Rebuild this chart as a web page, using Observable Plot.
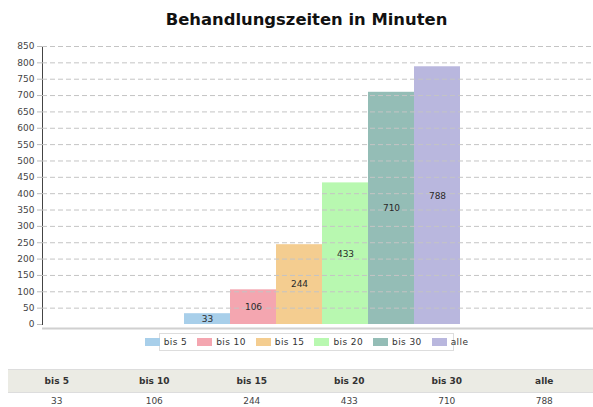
<!DOCTYPE html>
<html><head><meta charset="utf-8">
<script src="https://cdn.jsdelivr.net/npm/d3@7"></script>
<script src="https://cdn.jsdelivr.net/npm/@observablehq/plot@0.6"></script>
<style>
body{margin:0;width:593px;height:407px;overflow:hidden;background:#fff;font-family:"DejaVu Sans",Verdana,sans-serif;position:relative;}
#title{height:36px;line-height:40px;text-align:center;font-weight:bold;font-size:16.4px;color:#111;padding-left:20px;box-sizing:border-box;}
#chart svg{display:block;}
#legend{position:absolute;left:159px;top:333px;width:295px;height:18px;border:1px solid #ddd;box-sizing:border-box;display:flex;align-items:center;justify-content:center;gap:10px;font-size:9px;letter-spacing:0.4px;color:#333;white-space:nowrap;}
#legend .it{display:flex;align-items:center;gap:4px;white-space:nowrap;}
#legend .sw{width:15px;height:8px;flex:none;}
#tbl{position:absolute;left:8px;top:369px;width:585px;border-collapse:collapse;font-size:9px;color:#333;table-layout:fixed;}
#tbl th{background:#ebebe4;height:22px;padding:0;font-weight:bold;border-top:1px solid #ddd;border-bottom:1px solid #ddd;}
#tbl td{height:16px;padding:0;text-align:center;color:#444;}
</style></head><body>
<div id="title">Behandlungszeiten in Minuten</div>
<div id="chart"></div>
<div id="legend"></div>
<table id="tbl"></table>
<script>
const categories = ["bis 5", "bis 10", "bis 15", "bis 20", "bis 30", "alle"];
const values = [33, 106, 244, 433, 710, 788];
const colors = ["#a8cfea", "#f4a6b0", "#f4cd90", "#b8f8b0", "#94bdb6", "#b9b7de"];
const yTicks = d3.range(0, 851, 50);

const data = categories.map((c, i) => ({cat: c, value: values[i]}));

const chart = Plot.plot({
  width: 593,
  height: 296,
  marginTop: 10,
  marginBottom: 8,
  marginLeft: 42,
  marginRight: 0,
  style: {fontFamily: "DejaVu Sans, Verdana, sans-serif", fontSize: "9px", color: "#444", background: "#fff"},
  x: {domain: categories, padding: 0, paddingOuter: 2.96, align: 0.515, axis: null},
  y: {domain: [0, 850], ticks: yTicks, tickSize: 5, tickPadding: 3, label: null, line: true},
  color: {domain: categories, range: colors},
  marks: [
    Plot.barY(data, {x: "cat", y: "value", fill: "cat"}),
    Plot.ruleY(yTicks.filter(d => d > 0), {stroke: "#c4c4c4", strokeDasharray: "5,3", strokeWidth: 1}),
    Plot.ruleY([0], {dy: 4, stroke: "#d0d0d0", strokeWidth: 2}),
    Plot.text(data, {x: "cat", y: d => d.value / 2, text: d => String(d.value), fill: "#2a2a2a", fontSize: 9, letterSpacing: "0.4px"})
  ]
});
chart.querySelectorAll('[aria-label="y-axis line"], [aria-label="y-axis tick"]').forEach(g => g.setAttribute("stroke", "#bbb"));
document.getElementById("chart").appendChild(chart);

const legend = document.getElementById("legend");
categories.forEach((c, i) => {
  const it = document.createElement("div");
  it.className = "it";
  const sw = document.createElement("span");
  sw.className = "sw";
  sw.style.background = colors[i];
  const lb = document.createElement("span");
  lb.textContent = c;
  it.appendChild(sw); it.appendChild(lb);
  legend.appendChild(it);
});

const tbl = document.getElementById("tbl");
const hr = document.createElement("tr");
categories.forEach(c => { const th = document.createElement("th"); th.textContent = c; hr.appendChild(th); });
const vr = document.createElement("tr");
values.forEach(v => { const td = document.createElement("td"); td.textContent = v; vr.appendChild(td); });
tbl.appendChild(hr); tbl.appendChild(vr);
</script>
</body></html>
